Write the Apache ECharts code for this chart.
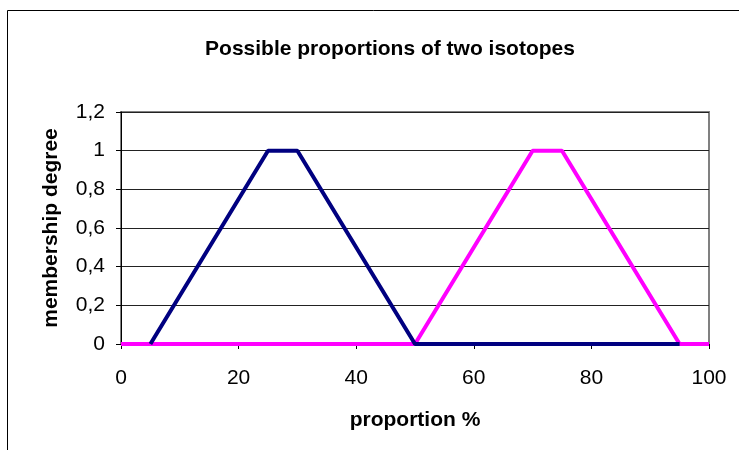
<!DOCTYPE html>
<html>
<head>
<meta charset="utf-8">
<script src="https://cdn.jsdelivr.net/npm/echarts@6/dist/echarts.min.js"></script>
<style>
  html, body { margin: 0; padding: 0; background: #fff; }
  #chart { width: 739px; height: 450px; }
</style>
</head>
<body>
<div id="chart"></div>
<script>
// Membership functions for the two isotope proportions (x in %, y = degree)
const isotopeAX = [5, 25, 30, 50, 95];
const isotopeAY = [0, 1, 1, 0, 0];
const isotopeBX = [0, 50, 70, 75, 95, 100];
const isotopeBY = [0, 0, 1, 1, 0, 0];

const titleText = 'Possible proportions of two isotopes';
const xName = 'proportion %';
const yName = 'membership degree';

const pairs = (xs, ys) => xs.map((x, i) => [x, ys[i]]);
const font = 'Liberation Sans, Arial, sans-serif';
const fs = 21;

const chart = echarts.init(document.getElementById('chart'));
chart.setOption({
  animation: false,
  backgroundColor: '#fff',
  title: {
    text: titleText,
    left: 385, top: 34, textAlign: 'center',
    textStyle: { fontFamily: font, fontSize: fs, fontWeight: 'bold', color: '#000' }
  },
  graphic: [
    { type: 'polyline', shape: { points: [[7.5, 460], [7.5, 10.5], [745, 10.5]] },
      style: { stroke: '#000', lineWidth: 1, fill: null }, silent: true }
  ],
  grid: {
    left: 121, right: 30, top: 112, bottom: 106,
    show: true, borderColor: '#808080', borderWidth: 2, backgroundColor: '#fff'
  },
  xAxis: {
    type: 'value', min: 0, max: 100, interval: 20,
    name: xName, nameLocation: 'middle', nameGap: 66,
    nameTextStyle: { fontFamily: font, fontSize: fs, fontWeight: 'bold', color: '#000' },
    axisLine: { show: true, lineStyle: { color: '#000', width: 1 } },
    axisTick: { show: true, length: 5, inside: false, lineStyle: { color: '#000' } },
    axisLabel: { fontFamily: font, fontSize: fs, color: '#000', margin: 24 },
    splitLine: { show: false }
  },
  yAxis: {
    type: 'value', min: 0, max: 1.2, interval: 0.2,
    name: yName, nameLocation: 'middle', nameGap: 59, nameRotate: 90,
    nameTextStyle: { fontFamily: font, fontSize: fs, fontWeight: 'bold', color: '#000' },
    axisLine: { show: true, lineStyle: { color: '#000', width: 1 } },
    axisTick: { show: true, length: 5, inside: false, lineStyle: { color: '#000' } },
    axisLabel: {
      fontFamily: font, fontSize: fs, color: '#000', margin: 16,
      formatter: v => String(Math.round(v * 10) / 10).replace('.', ',')
    },
    splitLine: { show: true, lineStyle: { color: '#222', width: 1 } }
  },
  series: [
    {
      type: 'line', data: pairs(isotopeBX, isotopeBY), showSymbol: false, z: 3,
      lineStyle: { color: '#ff00ff', width: 4 }, itemStyle: { color: '#ff00ff' }
    },
    {
      type: 'line', data: pairs(isotopeAX, isotopeAY), showSymbol: false, z: 4,
      lineStyle: { color: '#000080', width: 4 }, itemStyle: { color: '#000080' }
    }
  ]
});
</script>
</body>
</html>
